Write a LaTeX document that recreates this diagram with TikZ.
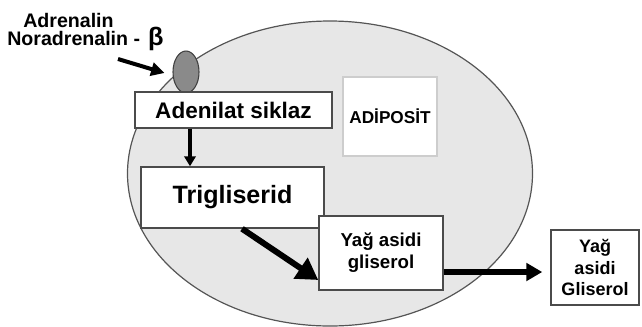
\documentclass[tikz,border=0pt]{standalone}
\usepackage{fontspec}
\setmainfont{Liberation Sans}
\usetikzlibrary{arrows.meta,calc,shapes.geometric}
\definecolor{cellfill}{RGB}{231,231,231}
\definecolor{celledge}{RGB}{85,85,85}
\definecolor{boxedge}{RGB}{75,75,75}
\definecolor{recfill}{RGB}{138,138,138}
\definecolor{lightedge}{RGB}{205,205,205}
\tikzset{
  box/.style={draw=boxedge, line width=1.1pt, fill=white, inner sep=0pt, align=center, font=\bfseries},
  lbl/.style={inner sep=0pt, font=\bfseries\fontsize{14.7}{17}\selectfont},
  arr/.style={line width=#1, draw=black},
}
\begin{document}
\begin{tikzpicture}[x=0.75pt,y=-0.75pt]
\useasboundingbox (0,0) rectangle (642,326);
% cell
\draw[fill=cellfill, draw=celledge, line width=0.9pt] (330,173.5) ellipse [x radius=151.875pt, y radius=114.375pt];
% receptor
\node (rec) [draw=black!75, fill=recfill, line width=0.8pt, ellipse, minimum width=19.5pt, minimum height=31.5pt, inner sep=0pt] at (186,72) {};
% boxes
\node (ad) [box, minimum width=147.75pt, minimum height=27pt, font=\bfseries\fontsize{16.9}{20}\selectfont] at (233.5,110) {Adenilat siklaz};
\node (ap) [box, draw=lightedge, line width=1.9pt, minimum width=70.5pt, minimum height=59.25pt, font=\bfseries\fontsize{12.9}{15}\selectfont] at (390,116.5) {ADİPOSİT};
\node (tg) [box, minimum width=137.25pt, minimum height=45.75pt, font=\bfseries\fontsize{18.8}{22}\selectfont] at (232.5,197.5) {Trigliserid};
\node (yg) [box, minimum width=93pt, minimum height=55.5pt, font=\bfseries\fontsize{14}{16.5}\selectfont] at (381,253) {Yağ asidi\\gliserol};
\node (rb) [box, minimum width=66pt, minimum height=56.25pt, font=\bfseries\fontsize{13.5}{16}\selectfont] at (595,267.5) {Yağ\\asidi\\Gliserol};
% labels
\node (adr) [lbl, anchor=base west] at (23,27) {Adrenalin};
\node (nor) [lbl, anchor=base west] at (7,45) {Noradrenalin - \hspace{2pt}{\fontsize{19}{19}\selectfont β}};
\coordinate (hs) at (118,59);
% arrows
\draw[arr=3pt, -{Triangle[length=10pt,width=10pt]}] (hs) -- ($(rec.west)+(-8,1)$);
\draw[arr=2.3pt, -{Triangle[length=7.5pt,width=8.5pt]}] ($(ad.south)+(-43.5,0)$) -- ($(tg.north)+(-42.5,0)$);
\draw[arr=4.5pt, -{Triangle[length=16pt,width=18pt]}] ($(tg.south)+(9.5,0)$) -- ($(yg.west)+(0,27)$);
\draw[arr=4.5pt, -{Triangle[length=12pt,width=13pt]}] ($(yg.east)+(0,19)$) -- ($(rb.west)+(-8,4.5)$);
\end{tikzpicture}
\end{document}
